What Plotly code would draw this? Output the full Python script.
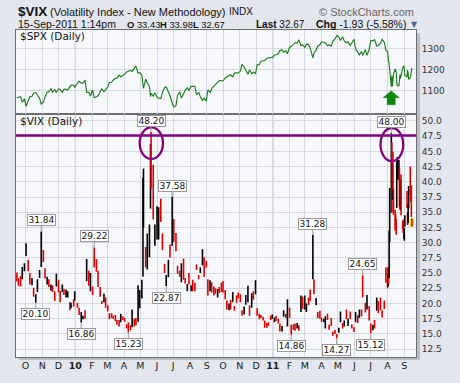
import plotly.graph_objects as go

# ---------------- data ----------------
dates = [
    "2009-09-15", "2009-09-18", "2009-09-22", "2009-09-25", "2009-09-29",
    "2009-10-02", "2009-10-06", "2009-10-09", "2009-10-13", "2009-10-16", "2009-10-20", "2009-10-23", "2009-10-27", "2009-10-30",
    "2009-11-03", "2009-11-06", "2009-11-10", "2009-11-13", "2009-11-17", "2009-11-20", "2009-11-24", "2009-11-27",
    "2009-12-01", "2009-12-04", "2009-12-08", "2009-12-11", "2009-12-15", "2009-12-18", "2009-12-22", "2009-12-24", "2009-12-29", "2009-12-31",
    "2010-01-05", "2010-01-08", "2010-01-12", "2010-01-15", "2010-01-19", "2010-01-22", "2010-01-26", "2010-01-29",
    "2010-02-02", "2010-02-05", "2010-02-09", "2010-02-12", "2010-02-16", "2010-02-19", "2010-02-23", "2010-02-26",
    "2010-03-02", "2010-03-05", "2010-03-09", "2010-03-12", "2010-03-16", "2010-03-19", "2010-03-23", "2010-03-26", "2010-03-30",
    "2010-04-02", "2010-04-06", "2010-04-09", "2010-04-13", "2010-04-16", "2010-04-20", "2010-04-23", "2010-04-27", "2010-04-30",
    "2010-05-04", "2010-05-06", "2010-05-07", "2010-05-11", "2010-05-14", "2010-05-18", "2010-05-20", "2010-05-21", "2010-05-25", "2010-05-28",
    "2010-06-01", "2010-06-04", "2010-06-08", "2010-06-11", "2010-06-15", "2010-06-18", "2010-06-22", "2010-06-25", "2010-06-29",
    "2010-07-02", "2010-07-06", "2010-07-09", "2010-07-13", "2010-07-16", "2010-07-20", "2010-07-23", "2010-07-27", "2010-07-30",
    "2010-08-03", "2010-08-06", "2010-08-10", "2010-08-13", "2010-08-17", "2010-08-20", "2010-08-24", "2010-08-27", "2010-08-31",
    "2010-09-03", "2010-09-07", "2010-09-10", "2010-09-14", "2010-09-17", "2010-09-21", "2010-09-24", "2010-09-28",
    "2010-10-01", "2010-10-05", "2010-10-08", "2010-10-12", "2010-10-15", "2010-10-19", "2010-10-22", "2010-10-26", "2010-10-29",
    "2010-11-02", "2010-11-05", "2010-11-09", "2010-11-12", "2010-11-16", "2010-11-19", "2010-11-23", "2010-11-26", "2010-11-30",
    "2010-12-03", "2010-12-07", "2010-12-10", "2010-12-14", "2010-12-17", "2010-12-21", "2010-12-24", "2010-12-28", "2010-12-31",
    "2011-01-04", "2011-01-07", "2011-01-11", "2011-01-14", "2011-01-18", "2011-01-21", "2011-01-25", "2011-01-28",
    "2011-02-01", "2011-02-04", "2011-02-08", "2011-02-11", "2011-02-15", "2011-02-18", "2011-02-22", "2011-02-25",
    "2011-03-01", "2011-03-04", "2011-03-08", "2011-03-11", "2011-03-16", "2011-03-18", "2011-03-22", "2011-03-25", "2011-03-29",
    "2011-04-01", "2011-04-05", "2011-04-08", "2011-04-12", "2011-04-15", "2011-04-19", "2011-04-22", "2011-04-26", "2011-04-29",
    "2011-05-03", "2011-05-06", "2011-05-10", "2011-05-13", "2011-05-17", "2011-05-20", "2011-05-24", "2011-05-27", "2011-05-31",
    "2011-06-03", "2011-06-07", "2011-06-10", "2011-06-14", "2011-06-16", "2011-06-21", "2011-06-24", "2011-06-28",
    "2011-07-01", "2011-07-05", "2011-07-08", "2011-07-12", "2011-07-15", "2011-07-19", "2011-07-22", "2011-07-26", "2011-07-29",
    "2011-08-01", "2011-08-02", "2011-08-03", "2011-08-04", "2011-08-05", "2011-08-08", "2011-08-09", "2011-08-10", "2011-08-11", "2011-08-12",
    "2011-08-15", "2011-08-16", "2011-08-17", "2011-08-18", "2011-08-19", "2011-08-22", "2011-08-23", "2011-08-24", "2011-08-25", "2011-08-26",
    "2011-08-29", "2011-08-30", "2011-08-31",
    "2011-09-01", "2011-09-02", "2011-09-06", "2011-09-07", "2011-09-08", "2011-09-09", "2011-09-12", "2011-09-13", "2011-09-14", "2011-09-15",
]

vix_open = [
    24.5, 23.9, 23.7, 24.5, 26.0,
    28.5, 26.9, 24.5, 23.4, 22.0, 21.0, 22.2, 24.5, 26.3,
    28.0, 25.4, 23.7, 23.7, 22.7, 22.5, 21.0, 24.4,
    23.7, 21.3, 22.7, 22.1, 21.5, 21.6, 19.9, 19.4, 20.2, 20.7,
    20.0, 19.1, 17.6, 17.7, 18.7, 25.0, 24.2, 23.5,
    22.3, 27.0, 26.2, 24.5, 22.3, 20.0, 20.6, 20.4,
    19.3, 18.3, 18.0, 17.6, 17.9, 16.9, 17.0, 17.4, 17.6,
    17.5, 16.4, 16.6, 16.1, 16.3, 17.3, 17.5, 17.5, 19.6,
    22.6, 25.0, 34.0, 27.9, 27.3, 28.1, 36.5, 46.3, 40.8, 30.5,
    31.2, 30.6, 36.5, 31.1, 26.4, 24.0, 24.6, 28.7, 29.7,
    33.3, 31.1, 25.7, 25.2, 23.9, 26.5, 23.9, 22.4, 24.6,
    22.3, 23.0, 22.7, 26.3, 24.3, 25.4, 26.5, 26.7, 26.1,
    23.9, 22.2, 23.4, 21.6, 22.5, 21.6, 22.7, 22.6,
    23.7, 22.2, 20.3, 19.0, 19.6, 20.6, 19.3, 21.2, 21.3,
    21.1, 18.6, 18.5, 20.0, 20.4, 18.9, 19.5, 21.5, 22.9,
    18.7, 18.0, 17.8, 17.6, 17.1, 16.6, 16.6, 17.6, 17.5,
    17.3, 17.6, 17.3, 16.4, 15.9, 18.0, 18.2, 16.7,
    18.8, 16.2, 16.3, 16.4, 16.2, 16.2, 18.9, 20.4,
    19.3, 19.0, 20.7, 22.0, 25.1, 23.3, 20.0, 18.5, 18.6,
    17.4, 17.0, 16.0, 17.5, 16.0, 17.0, 15.1, 15.5, 14.8,
    15.5, 17.3, 16.5, 16.6, 18.6, 16.5, 18.3, 16.3, 16.0,
    17.9, 17.6, 17.9, 18.7, 21.6, 20.0, 19.5, 19.4,
    16.6, 16.3, 16.4, 19.4, 19.8, 21.0, 18.5, 20.3, 25.3,
    25.0, 24.3, 25.6, 24.9, 31.2, 35.2, 46.0, 37.6, 42.3, 38.5,
    35.0, 33.5, 32.6, 36.4, 42.1, 41.7, 42.0, 36.5, 36.3, 39.5,
    33.5, 33.2, 32.0,
    31.0, 33.5, 37.4, 34.7, 33.6, 36.4, 40.0, 38.8, 37.3, 33.43,
]

vix_high = [
    25.1, 24.2, 24.5, 26.0, 26.6,
    29.9, 27.2, 25.0, 24.2, 22.6, 21.5, 24.0, 25.5, 31.84,
    28.8, 25.8, 24.4, 24.0, 23.1, 23.0, 22.0, 24.9,
    23.9, 22.1, 23.1, 22.4, 22.3, 22.0, 20.2, 20.1, 20.7, 22.0,
    20.1, 19.3, 18.6, 18.0, 18.9, 27.3, 25.4, 25.0,
    22.8, 29.22, 27.3, 25.4, 22.7, 20.4, 21.6, 21.0,
    19.7, 18.4, 18.4, 18.0, 18.1, 17.3, 17.3, 18.3, 17.9,
    17.6, 16.6, 16.9, 16.4, 19.0, 17.5, 17.6, 23.0, 22.2,
    23.9, 40.7, 42.2, 29.3, 31.5, 33.0, 46.2, 48.20, 42.8, 33.0,
    36.0, 35.8, 37.2, 31.5, 26.5, 24.7, 27.2, 29.7, 37.58,
    33.9, 31.6, 26.2, 25.4, 26.6, 27.4, 24.2, 23.2, 25.0,
    23.0, 23.9, 23.4, 26.4, 24.7, 25.9, 28.9, 27.6, 27.0,
    24.0, 23.8, 23.5, 22.8, 22.5, 22.4, 22.7, 23.4,
    23.7, 22.2, 20.5, 20.0, 20.6, 21.9, 19.6, 21.3, 21.8,
    21.5, 18.9, 19.5, 21.4, 22.9, 19.7, 21.7, 22.0, 23.8,
    19.2, 18.3, 18.1, 17.8, 17.2, 16.8, 16.9, 18.0, 18.2,
    17.7, 18.0, 17.5, 16.7, 16.3, 18.9, 18.3, 20.7,
    19.3, 16.5, 16.6, 16.7, 16.8, 16.4, 21.3, 21.1,
    21.3, 20.0, 21.0, 22.3, 31.28, 24.0, 20.9, 18.6, 18.8,
    17.7, 17.5, 17.9, 18.3, 16.5, 17.6, 15.4, 15.7, 15.0,
    16.0, 18.7, 16.8, 17.2, 19.0, 17.5, 18.7, 16.6, 16.1,
    18.6, 18.1, 19.0, 19.0, 24.65, 20.1, 21.4, 19.6,
    16.7, 16.5, 17.3, 21.0, 20.4, 21.0, 18.9, 20.5, 25.9,
    25.9, 24.9, 25.9, 32.0, 39.0, 48.00, 46.5, 43.0, 44.9, 38.9,
    35.4, 34.7, 33.9, 43.3, 44.1, 43.6, 42.3, 38.0, 40.4, 41.2,
    33.6, 33.8, 32.5,
    32.4, 34.5, 38.5, 35.0, 36.3, 39.3, 42.5, 39.4, 39.4, 33.98,
]

vix_low = [
    23.6, 22.9, 22.8, 24.0, 25.3,
    27.8, 25.3, 23.1, 23.0, 21.1, 20.10, 21.9, 24.2, 26.0,
    26.8, 24.1, 23.1, 22.7, 22.1, 21.9, 20.4, 22.8,
    21.8, 20.2, 21.9, 21.4, 21.0, 21.0, 18.9, 19.2, 19.5, 20.5,
    19.3, 18.1, 16.86, 17.4, 17.5, 23.7, 22.9, 22.0,
    21.4, 25.9, 25.2, 22.7, 21.1, 19.9, 20.2, 19.3,
    18.7, 17.4, 17.6, 17.5, 17.1, 16.5, 16.2, 16.9, 17.3,
    17.0, 15.9, 15.23, 15.6, 16.1, 16.2, 16.4, 17.0, 19.2,
    20.8, 24.4, 32.5, 25.9, 25.6, 27.6, 35.6, 38.9, 33.8, 29.5,
    30.5, 30.5, 33.4, 28.8, 25.0, 22.87, 24.3, 27.5, 29.5,
    30.1, 28.6, 24.9, 24.4, 23.5, 23.9, 23.3, 22.0, 23.1,
    22.0, 22.0, 22.0, 25.5, 24.0, 25.0, 26.3, 24.4, 25.9,
    21.3, 22.0, 21.8, 21.3, 21.6, 21.0, 21.7, 21.9,
    21.8, 20.7, 19.0, 18.9, 19.0, 20.2, 18.8, 20.1, 20.8,
    20.2, 18.0, 18.2, 19.8, 20.2, 18.0, 19.3, 20.6, 21.5,
    18.0, 17.4, 17.6, 17.2, 16.0, 16.0, 16.3, 17.3, 17.5,
    16.9, 17.1, 16.7, 15.4, 15.4, 17.8, 17.6, 16.2,
    17.6, 14.86, 15.7, 15.5, 15.9, 15.5, 18.6, 19.1,
    19.0, 18.6, 19.7, 20.4, 24.0, 21.5, 19.7, 17.6, 17.5,
    17.0, 16.9, 15.9, 17.3, 15.7, 16.3, 14.7, 15.0, 14.27,
    15.2, 16.9, 15.9, 16.2, 17.4, 16.3, 17.4, 15.9, 15.3,
    16.9, 16.8, 17.6, 17.9, 21.0, 18.5, 19.0, 17.2,
    15.12, 15.6, 15.9, 18.8, 18.4, 18.9, 17.7, 19.1, 23.4,
    22.5, 22.8, 23.2, 24.2, 30.1, 34.9, 34.9, 37.0, 38.7, 34.6,
    32.0, 32.7, 31.3, 35.7, 40.4, 40.3, 35.9, 35.5, 35.3, 34.5,
    32.2, 31.6, 30.6,
    30.3, 32.6, 35.7, 32.9, 33.2, 35.6, 37.7, 36.7, 34.2, 32.67,
]

vix_close = [
    23.9, 23.4, 23.2, 25.6, 26.1,
    28.7, 25.6, 23.1, 23.9, 21.4, 21.3, 23.8, 25.4, 30.7,
    27.3, 24.2, 23.8, 23.0, 22.9, 22.2, 20.9, 24.7,
    21.9, 21.3, 22.8, 21.6, 22.0, 21.7, 19.0, 19.6, 20.0, 21.7,
    19.4, 18.1, 18.3, 17.9, 17.6, 27.3, 23.6, 24.6,
    21.5, 26.1, 26.0, 22.7, 21.2, 20.0, 21.4, 19.5,
    18.8, 17.4, 17.9, 17.6, 17.1, 16.9, 16.4, 17.8, 17.6,
    17.0, 16.2, 16.1, 15.9, 18.4, 16.4, 16.6, 22.8, 22.0,
    23.8, 32.8, 40.95, 26.0, 31.2, 32.8, 45.8, 40.1, 34.6, 32.1,
    35.5, 35.5, 33.7, 28.8, 25.0, 24.1, 27.1, 28.5, 34.1,
    30.1, 29.6, 24.98, 24.6, 26.25, 24.0, 23.5, 23.0, 23.5,
    22.5, 22.1, 22.4, 26.2, 24.3, 25.5, 27.5, 24.45, 26.05,
    21.3, 23.8, 21.99, 21.6, 22.0, 22.35, 21.7, 22.2,
    22.5, 20.7, 19.0, 19.1, 19.1, 20.9, 19.1, 20.5, 21.2,
    20.3, 18.3, 19.1, 20.6, 22.6, 18.0, 21.4, 21.0, 23.5,
    18.0, 18.0, 17.6, 17.6, 16.1, 16.1, 16.5, 17.5, 17.75,
    17.4, 17.1, 16.9, 15.46, 15.9, 18.5, 17.6, 20.0,
    17.6, 15.9, 16.0, 15.7, 16.4, 15.6, 20.8, 19.2,
    21.0, 19.1, 19.9, 21.1, 29.4, 22.5, 20.5, 17.9, 17.5,
    17.4, 17.2, 17.9, 17.3, 15.9, 16.3, 15.1, 15.3, 14.75,
    15.99, 18.4, 16.0, 17.1, 17.9, 17.4, 17.8, 15.98, 15.45,
    17.95, 17.1, 18.86, 18.3, 21.3, 18.86, 21.1, 17.3,
    15.87, 16.3, 15.95, 19.9, 19.5, 19.0, 17.8, 20.2, 25.25,
    23.7, 24.8, 23.4, 31.66, 32.0, 48.0, 35.06, 42.99, 39.0, 36.36,
    32.85, 32.9, 31.58, 42.67, 43.05, 42.44, 36.27, 35.9, 39.76, 35.59,
    32.28, 32.9, 31.62,
    31.82, 33.92, 37.0, 33.3, 35.9, 38.5, 38.59, 36.91, 34.6, 32.67,
]

spx_close = [
    1066.0, 1068.3, 1071.7, 1044.4, 1060.6,
    1025.2, 1054.7, 1071.5, 1073.2, 1087.7, 1091.1, 1079.6, 1063.4, 1036.2,
    1045.4, 1069.3, 1093.0, 1093.5, 1110.3, 1091.4, 1105.7, 1091.5,
    1108.9, 1105.9, 1091.9, 1106.4, 1107.9, 1102.5, 1118.0, 1126.5, 1126.2, 1115.1,
    1136.5, 1145.0, 1136.2, 1136.0, 1150.2, 1091.8, 1092.2, 1073.9,
    1103.3, 1066.2, 1070.5, 1075.5, 1094.9, 1109.2, 1094.6, 1104.5,
    1118.3, 1138.7, 1140.4, 1150.0, 1159.5, 1159.9, 1174.2, 1166.6, 1173.3,
    1178.1, 1189.4, 1194.4, 1197.3, 1192.1, 1207.2, 1217.3, 1183.7, 1186.7,
    1173.6, 1128.2, 1110.9, 1155.8, 1135.7, 1120.8, 1071.6, 1087.7, 1074.0, 1089.4,
    1070.7, 1064.9, 1062.0, 1091.6, 1115.2, 1117.5, 1095.3, 1076.8, 1041.2,
    1022.6, 1028.1, 1078.0, 1095.3, 1064.9, 1083.5, 1102.7, 1113.8, 1101.6,
    1120.5, 1121.6, 1121.1, 1079.3, 1092.5, 1071.7, 1051.9, 1064.6, 1049.3,
    1104.5, 1091.8, 1109.6, 1121.1, 1125.6, 1139.3, 1148.7, 1147.7,
    1146.2, 1160.8, 1165.2, 1169.8, 1176.2, 1165.9, 1183.1, 1185.6, 1183.3,
    1193.6, 1225.9, 1213.4, 1199.2, 1178.3, 1199.7, 1180.7, 1189.4, 1180.6,
    1224.7, 1223.8, 1240.4, 1241.6, 1243.9, 1254.6, 1256.8, 1258.5, 1257.6,
    1270.2, 1271.5, 1275.0, 1293.2, 1295.0, 1283.4, 1291.2, 1276.3,
    1307.6, 1310.9, 1324.6, 1329.2, 1328.0, 1343.0, 1315.4, 1319.9,
    1306.3, 1321.2, 1321.8, 1304.3, 1256.9, 1279.2, 1293.8, 1313.8, 1319.4,
    1332.4, 1332.6, 1328.2, 1314.2, 1319.7, 1312.6, 1337.4, 1347.2, 1363.6,
    1356.6, 1340.2, 1357.2, 1337.8, 1329.0, 1333.3, 1316.3, 1331.1, 1345.2,
    1300.2, 1284.9, 1271.0, 1287.9, 1267.6, 1295.5, 1268.5, 1296.7,
    1339.7, 1337.9, 1343.8, 1313.6, 1316.1, 1326.7, 1345.0, 1331.9, 1292.3,
    1286.9, 1254.1, 1260.3, 1200.1, 1199.4, 1119.5, 1172.5, 1120.8, 1172.6, 1178.8,
    1204.5, 1192.8, 1193.9, 1140.7, 1123.5, 1123.8, 1162.4, 1177.6, 1159.3, 1176.8,
    1210.1, 1212.9, 1218.9,
    1204.4, 1174.0, 1165.2, 1198.6, 1185.9, 1154.2, 1162.3, 1172.9, 1188.7, 1209.1,
]

n = len(dates)
assert all(len(a) == n for a in (vix_open, vix_high, vix_low, vix_close, spx_close)), \
    [len(a) for a in (dates, vix_open, vix_high, vix_low, vix_close, spx_close)]

month_ticks = [
    "2009-10-01", "2009-11-01", "2009-12-01", "2010-01-01", "2010-02-01", "2010-03-01",
    "2010-04-01", "2010-05-01", "2010-06-01", "2010-07-01", "2010-08-01", "2010-09-01",
    "2010-10-01", "2010-11-01", "2010-12-01", "2011-01-01", "2011-02-01", "2011-03-01",
    "2011-04-01", "2011-05-01", "2011-06-01", "2011-07-01", "2011-08-01", "2011-09-01",
]
month_labels = ["O", "N", "D", "<b>10</b>", "F", "M", "A", "M", "J", "J", "A", "S",
                "O", "N", "D", "<b>11</b>", "F", "M", "A", "M", "J", "J", "A", "S"]
year_lines = ["2010-01-01", "2011-01-01"]

peak_dates = ["2009-10-30", "2010-02-05", "2010-05-21", "2010-06-29", "2011-03-16", "2011-06-16", "2011-08-08"]
peak_values = [31.84, 29.22, 48.20, 37.58, 31.28, 24.65, 48.00]
trough_dates = ["2009-10-20", "2010-01-12", "2010-04-09", "2010-06-18", "2011-02-04", "2011-04-29", "2011-07-01"]
trough_values = [20.10, 16.86, 15.23, 22.87, 14.86, 14.27, 15.12]

resistance_level = 47.6
vix_ticks = [12.5, 15.0, 17.5, 20.0, 22.5, 25.0, 27.5, 30.0, 32.5, 35.0, 37.5, 40.0, 42.5, 45.0, 47.5, 50.0]
spx_ticks = [1100, 1200, 1300]

# ---------------- geometry helpers (pixel -> paper) ----------------
def px(x):
    return (x - 16) / 400.0

def py(y):
    return (366 - y) / 336.0

SPLIT = py(116)
FONT = "DejaVu Sans"
HFONT = "Liberation Sans"

fig = go.Figure()

# highlight of the latest bar
fig.add_trace(go.Ohlc(
    x=dates[-1:], open=vix_open[-1:], high=vix_high[-1:], low=vix_low[-1:], close=vix_close[-1:],
    increasing=dict(line=dict(color="#f2e600", width=4)),
    decreasing=dict(line=dict(color="#f2e600", width=4)),
    xaxis="x", yaxis="y", showlegend=False, hoverinfo="skip",
))
fig.add_trace(go.Ohlc(
    x=dates, open=vix_open, high=vix_high, low=vix_low, close=vix_close,
    increasing=dict(line=dict(color="#000000", width=1.6)),
    decreasing=dict(line=dict(color="#e00000", width=1.6)),
    tickwidth=0.2, xaxis="x", yaxis="y", showlegend=False,
))
fig.add_trace(go.Scatter(
    x=dates, y=spx_close, mode="lines", line=dict(color="#157a15", width=1.1),
    xaxis="x2", yaxis="y2", showlegend=False,
))

GRID = "#d6d9e2"
AXLINE = "#6e6e6e"
xrange = ["2009-09-13 10:00", "2011-09-22 14:00"]

fig.update_layout(
    width=460, height=383,
    margin=dict(l=16, r=44, t=30, b=17),
    paper_bgcolor="#e3e6ec",
    plot_bgcolor="#f7f8fb",
    showlegend=False,
    xaxis=dict(
        domain=[0, 1], anchor="y", type="date", range=xrange,
        tickmode="array", tickvals=month_ticks, ticktext=month_labels,
        showgrid=True, gridcolor=GRID, gridwidth=1, ticks="",
        tickfont=dict(family=FONT, size=9.5, color="#222"),
        showline=True, linecolor=AXLINE, linewidth=1, mirror=True,
        rangeslider=dict(visible=False), zeroline=False,
    ),
    xaxis2=dict(
        domain=[0, 1], anchor="y2", type="date", matches="x", range=xrange,
        tickmode="array", tickvals=month_ticks, showticklabels=False,
        showgrid=True, gridcolor=GRID, gridwidth=1, ticks="",
        showline=True, linecolor=AXLINE, linewidth=1, mirror=True,
        zeroline=False,
    ),
    yaxis=dict(
        domain=[0, SPLIT], anchor="x", side="right", range=[11.2, 51.2],
        tickmode="array", tickvals=vix_ticks, tickformat=".1f",
        showgrid=True, gridcolor=GRID, gridwidth=1,
        ticks="outside", ticklen=3, tickcolor="rgba(0,0,0,0)",
        tickfont=dict(family=FONT, size=9, color="#333"),
        showline=True, linecolor=AXLINE, linewidth=1, mirror=True, zeroline=False,
    ),
    yaxis2=dict(
        domain=[SPLIT, 1], anchor="x2", side="right", range=[990, 1390],
        tickmode="array", tickvals=spx_ticks,
        showgrid=True, gridcolor=GRID, gridwidth=1,
        ticks="outside", ticklen=3, tickcolor="rgba(0,0,0,0)",
        tickfont=dict(family=FONT, size=9, color="#333"),
        showline=True, linecolor=AXLINE, linewidth=1, mirror=True, zeroline=False,
    ),
)

shapes = []
# drop shadow outside plot area
shapes.append(dict(type="rect", xref="paper", yref="paper", x0=px(416.5), x1=px(420), y0=py(369), y1=py(33),
                   fillcolor="#b9bdc8", line=dict(width=0), layer="below"))
shapes.append(dict(type="rect", xref="paper", yref="paper", x0=px(19), x1=px(420), y0=py(369), y1=py(366.5),
                   fillcolor="#b9bdc8", line=dict(width=0), layer="below"))
# year separators
for d in year_lines:
    for xr, dom in (("x", (0, SPLIT)), ("x2", (SPLIT, 1))):
        shapes.append(dict(type="line", xref=xr, yref="paper", x0=d, x1=d, y0=dom[0], y1=dom[1],
                           line=dict(color="#a9adb8", width=1), layer="below"))
# purple resistance line
shapes.append(dict(type="line", xref="paper", yref="y", x0=0, x1=1, y0=resistance_level, y1=resistance_level,
                   line=dict(color="#800080", width=2.5)))
# ellipses around the two peaks
shapes.append(dict(type="circle", xref="x", yref="y", x0="2010-04-30", x1="2010-06-12", y0=43.76, y1=48.95,
                   line=dict(color="#800080", width=2.3)))
shapes.append(dict(type="circle", xref="x", yref="y", x0="2011-07-19", x1="2011-08-30", y0=43.4, y1=48.85,
                   line=dict(color="#800080", width=2.3)))
# green arrow in SPX panel
cx = px(391.2)
hw, sw = 8 / 400.0, 4 / 400.0
tip, hb, base = py(92.5), py(99.5), py(106.7)
arrow_path = (f"M {cx-hw},{hb} L {cx},{tip} L {cx+hw},{hb} L {cx+sw},{hb} "
              f"L {cx+sw},{base} L {cx-sw},{base} L {cx-sw},{hb} Z")
shapes.append(dict(type="path", xref="paper", yref="paper", path=arrow_path,
                   fillcolor="#0a8a0a", line=dict(color="#0a8a0a", width=0.5)))
fig.update_layout(shapes=shapes)

ann = []
# value labels
for d, v in zip(peak_dates, peak_values):
    ann.append(dict(x=d, y=v, xref="x", yref="y", text=f"{v:.2f}", showarrow=True, ax=0, ay=-11,
                    arrowhead=0, arrowwidth=1, arrowcolor="#9a9a9a", standoff=0,
                    bgcolor="#ffffff", bordercolor="#9a9a9a", borderwidth=1, borderpad=0,
                    width=27, height=10, font=dict(family=FONT, size=9, color="#111")))
for d, v in zip(trough_dates, trough_values):
    ann.append(dict(x=d, y=v, xref="x", yref="y", text=f"{v:.2f}", showarrow=True, ax=0, ay=11.5,
                    arrowhead=0, arrowwidth=1, arrowcolor="#9a9a9a", standoff=0,
                    bgcolor="#ffffff", bordercolor="#9a9a9a", borderwidth=1, borderpad=0,
                    width=27, height=10, font=dict(family=FONT, size=9, color="#111")))

# panel titles
ann.append(dict(x=px(18), y=py(36.5), xref="paper", yref="paper", text="$SPX (Daily)", showarrow=False,
                xanchor="left", yanchor="middle", font=dict(family=FONT, size=10.5, color="#111")))
ann.append(dict(x=px(18), y=py(124), xref="paper", yref="paper", text="$VIX (Daily)", showarrow=False,
                xanchor="left", yanchor="middle", font=dict(family=FONT, size=10.5, color="#111")))

# header
def head(x, y, text, size, color="#111", anchor="left", family=HFONT):
    ann.append(dict(x=px(x), y=py(y), xref="paper", yref="paper", text=text, showarrow=False,
                    xanchor=anchor, yanchor="middle", font=dict(family=family, size=size, color=color)))

head(15.5, 10.5, "<b>$VIX</b>", 13.5)
head(47.5, 11, "(Volatility Index - New Methodology)", 11)
head(226.5, 11, "INDX", 10)
head(416, 11, "© StockCharts.com", 11, color="#666666", anchor="right")
head(15.5, 24, "15-Sep-2011 1:14pm", 10.5)
head(124.5, 24, "<b>O</b> 33.43", 9.4)
head(158, 24, "<b>H</b> 33.98", 9.4)
head(191, 24, "<b>L</b> 32.67", 9.4)
head(254, 24, "<b>Last</b> 32.67", 10)
head(314, 24, "<b>Chg</b> -1.93 (-5.58%)", 10.5)
head(409, 24.5, "▼", 8, color="#4a6890", family=FONT)

fig.update_layout(annotations=ann)

fig.write_html(
    "out.html",
    config={"displayModeBar": False},
    post_script="document.body.style.margin='0';document.body.style.overflow='hidden';",
)
